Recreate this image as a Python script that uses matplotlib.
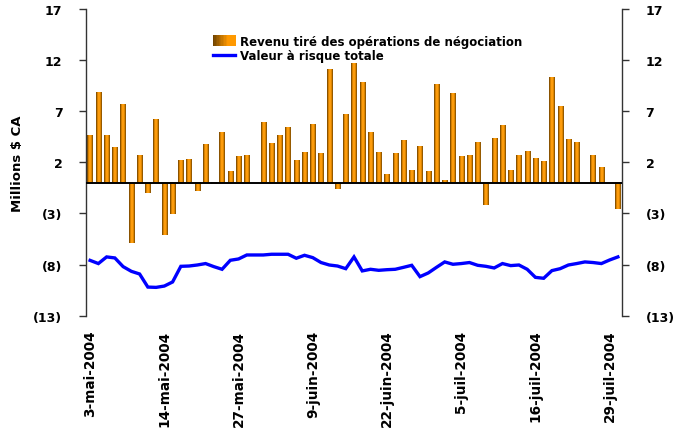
import numpy as np
import pandas as pd
import matplotlib
matplotlib.use("Agg")
import matplotlib.pyplot as plt
from matplotlib.colors import LinearSegmentedColormap
from matplotlib.patches import Rectangle
from matplotlib.legend_handler import HandlerBase
from matplotlib.lines import Line2D
from matplotlib.ticker import FuncFormatter

plt.rcParams['font.family'] = ['DejaVu Sans']
plt.rcParams['font.weight'] = 'bold'

# Trading days, 3 May to 30 July 2004
days = pd.bdate_range("2004-05-03", "2004-07-30")

# Daily trading revenue (millions CAD)
revenue = [
    4.61, 8.82, 4.61, 3.43, 7.65, -5.85, 2.65, -0.95, 6.18, -5.07,
    -3.10, 2.16, 2.25, -0.85, 3.73, -0.16, 4.90, 1.08, 2.55, 2.65,
    0.00, 5.88, 3.82, 4.61, 5.39, 2.16, 2.94, 5.69, 2.84, 11.10,
    -0.56, 6.67, 11.67, 9.80, 4.90, 2.94, 0.88, 2.84, 4.12, 1.27,
    3.53, 1.08, 9.61, 0.29, 8.73, 2.55, 2.65, 3.92, -2.22, 4.31,
    5.59, 1.18, 2.65, 3.04, 2.35, 2.06, 10.29, 7.45, 4.22, 3.92,
    0.00, 2.65, 1.47, 0.00, -2.61,
]

# Total value at risk (millions CAD)
var_total = [
    -7.59, -7.90, -7.25, -7.35, -8.20, -8.66, -8.92, -10.20, -10.23, -10.10,
    -9.70, -8.17, -8.14, -8.04, -7.90, -8.20, -8.46, -7.58, -7.45, -7.06,
    -7.06, -7.06, -6.99, -6.99, -6.99, -7.38, -7.09, -7.32, -7.80, -8.04,
    -8.14, -8.40, -7.25, -8.62, -8.46, -8.56, -8.50, -8.46, -8.27, -8.07,
    -9.18, -8.82, -8.27, -7.74, -7.97, -7.90, -7.80, -8.07, -8.17, -8.33,
    -7.90, -8.10, -8.04, -8.46, -9.25, -9.34, -8.59, -8.40, -8.04, -7.90,
    -7.74, -7.80, -7.90, -7.55, -7.25,
]

tick_labels = ["3-mai-2004", "14-mai-2004", "27-mai-2004", "9-juin-2004",
               "22-juin-2004", "5-juil-2004", "16-juil-2004", "29-juil-2004"]
y_ticks = [17, 12, 7, 2, -3, -8, -13]

bar_cmap = LinearSegmentedColormap.from_list(
    "bar_grad", ["#5e3800", "#b86e00", "#ff9900", "#ffa21a", "#ff9900", "#c47600", "#6a4000"])
legend_cmap = LinearSegmentedColormap.from_list(
    "leg_grad", ["#6a4000", "#b86e00", "#ff9900", "#ff9900"])

W, H = 674, 435
fig = plt.figure(figsize=(W / 100, H / 100), dpi=100)
ax = fig.add_axes([86 / W, 1 - 316.7 / H, 536 / W, 306.7 / H])

x = np.arange(len(days))
bar_w = 0.64
bars = ax.bar(x, revenue, width=bar_w, color="none", edgecolor="none", zorder=2)
grad = np.linspace(0, 1, 64).reshape(1, -1)
for b in bars:
    h = b.get_height()
    if h == 0:
        continue
    x0 = b.get_x()
    y0, y1 = sorted([b.get_y(), b.get_y() + h])
    ax.imshow(grad, cmap=bar_cmap, aspect="auto", interpolation="bilinear",
              extent=[x0, x0 + b.get_width(), y0, y1], zorder=2)

ax.axhline(0, color="black", lw=1.4, zorder=3)
ax.plot(x, var_total, color="#0000ff", lw=2.4, zorder=4, solid_joinstyle="miter")

ax.set_xlim(-0.5, len(days) - 0.5)
ax.set_ylim(-13, 17)

ax.set_yticks(y_ticks)
ax.yaxis.set_major_formatter(FuncFormatter(
    lambda v, p: f"({abs(int(round(v)))})" if v < 0 else f"{int(round(v))}"))
ax.tick_params(axis="y", which="both", direction="out", length=5, width=1,
               color="#333333", left=True, right=True, labelleft=True,
               labelright=True, labelsize=9, pad=12)
for lab in ax.get_yticklabels():
    lab.set_fontweight("bold")

ax.set_xticks(x[::9])
ax.set_xticklabels(tick_labels, rotation=90, fontsize=9.8, fontweight="bold",
                   va="top", ha="center")
ax.tick_params(axis="x", length=0, pad=10)

for s in ["top", "bottom"]:
    ax.spines[s].set_visible(False)
for s in ["left", "right"]:
    ax.spines[s].set_color("#333333")
    ax.spines[s].set_linewidth(1)

ax.set_ylabel("Millions $ CA", fontsize=9.5, fontweight="bold")
ax.yaxis.set_label_coords(-0.115, 0.5)


class GradientPatchHandler(HandlerBase):
    def create_artists(self, legend, orig_handle, xdescent, ydescent,
                       width, height, fontsize, trans):
        n = 16
        arts = []
        for k in range(n):
            arts.append(Rectangle((-xdescent + width * k / n, -ydescent - 1),
                                  width / n + 0.3, height + 2,
                                  facecolor=legend_cmap((k + 0.5) / n),
                                  edgecolor="none", transform=trans))
        return arts


bar_handle = Rectangle((0, 0), 1, 1)
line_handle = Line2D([], [], color="#0000ff", lw=2.4)
leg = fig.legend([bar_handle, line_handle],
                 ["Revenu tiré des opérations de négociation", "Valeur à risque totale"],
                 handler_map={Rectangle: GradientPatchHandler()},
                 loc="upper left", bbox_to_anchor=(213 / W, 1 - 36 / H),
                 frameon=False, borderpad=0, borderaxespad=0,
                 handlelength=1.9, handleheight=0.7, handletextpad=0.35,
                 labelspacing=0.12, prop={"size": 8.5, "weight": "bold"})

fig.savefig("out.png", dpi=100)
